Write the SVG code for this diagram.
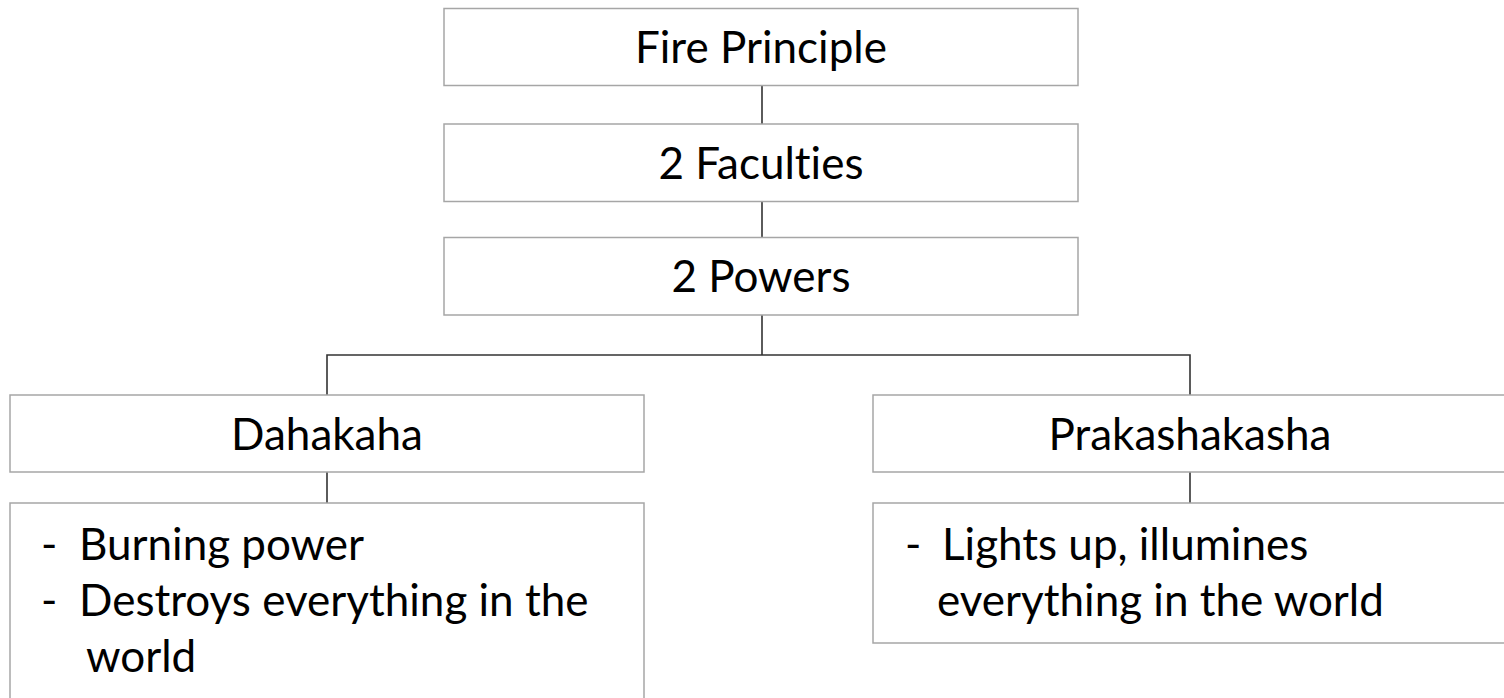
<svg xmlns="http://www.w3.org/2000/svg" width="1504" height="698" viewBox="0 0 1504 698">
  <style>
    .box { fill: #ffffff; stroke: #a6a6a6; stroke-width: 1.5; }
    .wire { fill: none; stroke: #333333; stroke-width: 1.6; }
    .label { font-family: Lato, "Open Sans", "Liberation Sans", sans-serif; font-size: 44px; fill: #000000; font-variant-ligatures: none; font-feature-settings: "liga" 0; }
    .mid { text-anchor: middle; }
  </style>
  <rect width="1504" height="698" fill="#ffffff"/>

  <!-- tree connectors -->
  <g id="connectors">
    <line class="wire" x1="762" y1="85.5" x2="762" y2="124"/>
    <line class="wire" x1="762" y1="201.5" x2="762" y2="237.5"/>
    <polyline class="wire" points="327,395 327,355 1190,355 1190,395"/>
    <line class="wire" x1="762" y1="315" x2="762" y2="355"/>
    <line class="wire" x1="327" y1="472" x2="327" y2="503"/>
    <line class="wire" x1="1190" y1="472" x2="1190" y2="503"/>
  </g>

  <g id="fire-principle">
    <rect class="box" x="444" y="8.5" width="634" height="77"/>
    <text class="label mid" x="761" y="63">Fire Principle</text>
  </g>

  <g id="faculties">
    <rect class="box" x="444" y="124" width="634" height="77.5"/>
    <text class="label mid" x="761" y="178.5">2 Faculties</text>
  </g>

  <g id="powers">
    <rect class="box" x="444" y="237.5" width="634" height="77.5"/>
    <text class="label mid" x="761" y="292">2 Powers</text>
  </g>

  <g id="dahakaha">
    <rect class="box" x="10" y="395" width="634" height="77"/>
    <text class="label mid" x="327" y="449.5">Dahakaha</text>
  </g>

  <g id="dahakaha-notes">
    <rect class="box" x="10" y="503" width="634" height="200"/>
    <text class="label" x="41" y="560">-</text>
    <text class="label" x="79" y="560">Burning power</text>
    <text class="label" x="41" y="616">-</text>
    <text class="label" x="79" y="616">Destroys everything in the</text>
    <text class="label" x="86" y="672">world</text>
  </g>

  <g id="prakashakasha">
    <rect class="box" x="873" y="395" width="640" height="77"/>
    <text class="label mid" x="1190" y="449.5">Prakashakasha</text>
  </g>

  <g id="prakashakasha-notes">
    <rect class="box" x="873" y="503" width="640" height="140"/>
    <text class="label" x="905" y="560">-</text>
    <text class="label" x="942" y="560">Lights up, illumines</text>
    <text class="label" x="937" y="616">everything in the world</text>
  </g>
</svg>
